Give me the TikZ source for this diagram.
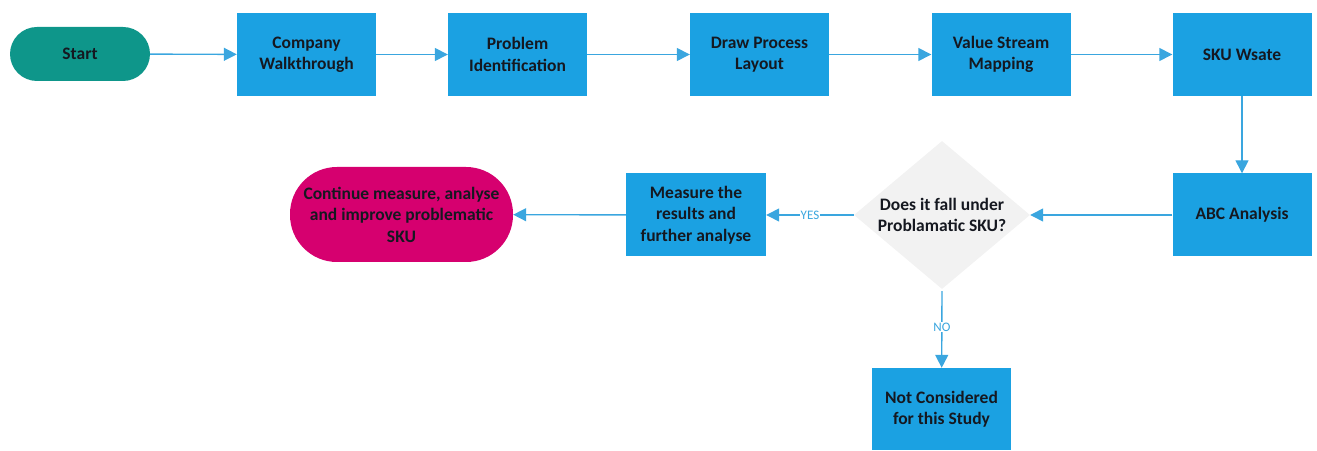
\documentclass[tikz,border=0pt]{standalone}
\usepackage{fontspec}
\setmainfont{Carlito}
\usetikzlibrary{shapes.geometric,arrows.meta}
\definecolor{boxblue}{HTML}{1BA1E2}
\definecolor{linkblue}{HTML}{3AA6DF}
\definecolor{startteal}{HTML}{0E968A}
\definecolor{endmagenta}{HTML}{D6006F}
\definecolor{decgray}{HTML}{F2F2F2}
\definecolor{ink}{HTML}{151820}
\tikzset{
  labelfont/.style={font=\fontsize{17.5}{21.5}\selectfont\bfseries},
  stepbox/.style={rectangle, fill=boxblue, minimum width=139pt, minimum height=83pt,
    inner sep=2pt, align=center, text=ink, labelfont},
  terminal/.style={rectangle, rounded corners=#1, inner sep=2pt, align=center, text=ink, labelfont},
  decision/.style={diamond, shape aspect=1.19, fill=decgray, inner sep=0pt, minimum width=176pt,
    minimum height=148pt, align=center, text=ink, labelfont},
  link/.style={draw=linkblue, line width=1.4pt, -{Triangle[length=13pt,width=13pt]}},
  branch/.style={fill=white, text=linkblue, inner sep=1pt, font=\fontsize{13}{15}\selectfont}
}
\begin{document}
\begin{tikzpicture}[x=1pt,y=1pt]
\useasboundingbox (0,0) rectangle (1317,450);

% top row
\node[terminal=27pt, fill=startteal, minimum width=140pt, minimum height=54pt] (start) at (80,396) {Start};
\node[stepbox] (walk) at (306.5,395.5) {Company\\Walkthrough};
\node[stepbox] (prob) at (517.5,395.5) {Problem\\Identification};
\node[stepbox] (layout) at (759.5,395.5) {Draw Process\\Layout};
\node[stepbox] (vsm) at (1001,395.5) {Value Stream\\Mapping};
\node[stepbox] (sku) at (1242,395.5) {SKU Wsate};

% middle row
\node[stepbox] (abc) at (1242,235) {ABC Analysis};
\node[decision] (dec) at (942,235) {Does it fall under\\Problamatic SKU?};
\node[stepbox, minimum width=140pt] (meas) at (696,235) {Measure the\\results and\\further analyse};
\node[terminal=47pt, fill=endmagenta, minimum width=223pt, minimum height=95pt] (cont) at (401.5,235.5)
  {Continue measure, analyse\\and improve problematic\\SKU};

% bottom
\node[stepbox, minimum height=82pt] (skip) at (941.5,41) {Not Considered\\for this Study};

% connectors
\draw[link] (start) -- (walk);
\draw[link] (walk) -- (prob);
\draw[link] (prob) -- (layout);
\draw[link] (layout) -- (vsm);
\draw[link] (vsm) -- (sku);
\draw[link] (sku) -- (abc);
\draw[link] (abc) -- (dec);
\draw[link] (dec) -- node[branch, pos=0.5] {YES} (meas);
\draw[link] (meas) -- (cont);
\draw[link] ([yshift=-2pt]dec.south) -- node[branch, pos=0.47] {NO} (skip);
\end{tikzpicture}
\end{document}
